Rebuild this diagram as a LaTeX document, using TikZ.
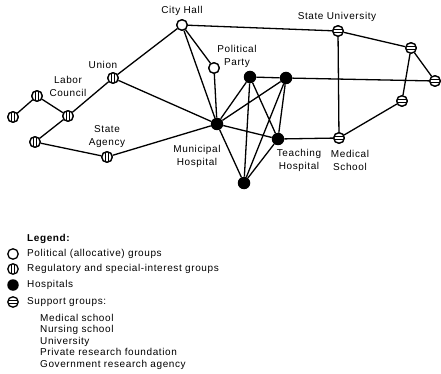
\documentclass[tikz,border=0pt]{standalone}
\usepackage{fontspec}
\setmainfont{Liberation Sans}[LetterSpace=6]
\usepackage{tikz}
\usetikzlibrary{positioning}

\begin{document}
\begin{tikzpicture}[
  x=1pt, y=-1pt,
  conn/.style={line width=1.3pt},
  grp/.style={circle,draw,line width=1.3pt,fill=white,minimum size=10.5pt,inner sep=0pt},
  pol/.style={grp},
  reg/.style={grp,path picture={
      \draw[line width=0.9pt] ([xshift=-1.3pt]path picture bounding box.north) -- ([xshift=-1.3pt]path picture bounding box.south);
      \draw[line width=0.9pt] ([xshift=1.3pt]path picture bounding box.north) -- ([xshift=1.3pt]path picture bounding box.south);}},
  sup/.style={grp,path picture={
      \draw[line width=0.9pt] ([yshift=-1.3pt]path picture bounding box.west) -- ([yshift=-1.3pt]path picture bounding box.east);
      \draw[line width=0.9pt] ([yshift=1.3pt]path picture bounding box.west) -- ([yshift=1.3pt]path picture bounding box.east);}},
  hosp/.style={circle,fill=black,minimum size=12.5pt,inner sep=0pt},
  lbl/.style={font=\fontsize{10}{13}\selectfont,inner sep=0pt,align=center}
]
\useasboundingbox (0,0) rectangle (441,374);

% groups
\node[pol] (ch) at (182,25) {};
\node[pol] (pp) at (214,68) {};
\node[reg] (un) at (113,78) {};
\node[reg] (lc) at (37,96) {};
\node[reg] (lf) at (13,117) {};
\node[reg] (md) at (68,116) {};
\node[reg] (ll) at (35,142) {};
\node[reg] (sa) at (107,157) {};
\node[hosp] (mh) at (217,124) {};
\node[hosp] (h1) at (250,77) {};
\node[hosp] (h2) at (286,78) {};
\node[hosp] (th) at (278,139) {};
\node[hosp] (h3) at (244,183) {};
\node[sup] (su) at (338,31) {};
\node[sup] (ms) at (339,138) {};
\node[sup] (s1) at (411,48) {};
\node[sup] (s2) at (435,81) {};
\node[sup] (s3) at (402,101) {};

% labels
\node[lbl] (chl) at (182,11) {City Hall};
\node[lbl] (sul) at (337,17) {State University};
\node[lbl] (ppl) at (237,56) {Political\\Party};
\node[lbl] (unl) at (103,65) {Union};
\node[lbl] (lcl) at (68,86) {Labor\\Council};
\node[lbl] (sal) at (107,137) {State\\Agency};
\node[lbl] (mhl) at (197,156) {Municipal\\Hospital};
\node[lbl] (thl) at (299,160) {Teaching\\Hospital};
\node[lbl] (msl) at (350,160) {Medical\\School};

% ties
\draw[conn] (ch) -- (su) (ch) -- (un) (ch) -- (pp) (ch) -- (mh)
  (pp) -- (mh) (un) -- (mh) (un) -- (md) (md) -- (lc) (lc) -- (lf)
  (md) -- (ll) (ll) -- (sa) (sa) -- (mh);
\draw[conn] (mh) -- (h1) (mh) -- (h2) (mh) -- (th) (mh) -- (h3)
  (h1) -- (h2) (h1) -- (th) (h1) -- (h3) (h2) -- (th) (h2) -- (h3) (th) -- (h3);
\draw[conn] (h2) -- (s2) (th) -- (ms) (su) -- (ms) (su) -- (s1)
  (s1) -- (s2) (s1) -- (s3) (s3) -- (ms);
% redraw nodes on top
\foreach \n/\s in {ch/pol,pp/pol,su/sup,ms/sup,s1/sup,s2/sup,s3/sup,un/reg,lc/reg,lf/reg,md/reg,ll/reg,sa/reg}
  \node[\s] at (\n) {};

% legend
\node[lbl,anchor=west,font=\bfseries\fontsize{10}{13}\selectfont] (lgd) at (27,239) {Legend:};
\node[pol] (kpol) at (13,254) {};
\node[reg] (kreg) at (13,269) {};
\node[hosp,minimum size=11.5pt] (khosp) at (13,285) {};
\node[sup] (ksup) at (13,302) {};
\node[lbl,anchor=west] (tpol) at (27,254) {Political (allocative) groups};
\node[lbl,anchor=west] (treg) at (27,269) {Regulatory and special-interest groups};
\node[lbl,anchor=west] (thosp) at (27,285) {Hospitals};
\node[lbl,anchor=west] (tsup) at (27,302) {Support groups:};
\node[lbl,anchor=north west,align=left,font=\fontsize{10}{11.5}\selectfont] (tlist) at (40,314)
  {Medical school\\Nursing school\\University\\Private research foundation\\Government research agency};
\end{tikzpicture}
\end{document}
